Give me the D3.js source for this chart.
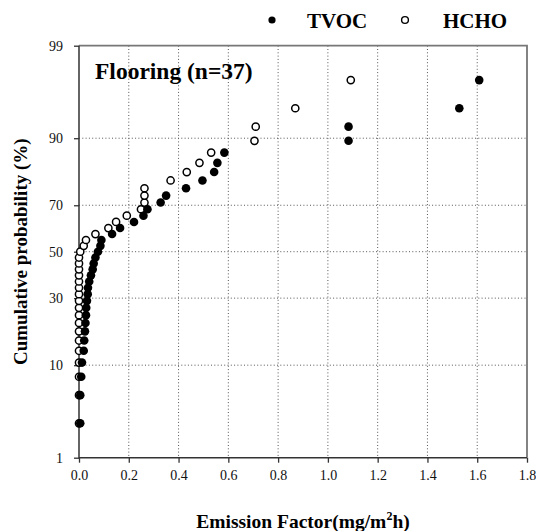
<!DOCTYPE html>
<html>
<head>
<meta charset="utf-8">
<script src="https://cdn.jsdelivr.net/npm/d3@7"></script>
<style>
  body { margin: 0; background: #fff; }
  svg, svg text { font-family: "Liberation Serif", "Times New Roman", serif; }
  svg { display: block; }
</style>
</head>
<body>
<div id="chart"></div>
<script>
// Emission factors (mg/m2h), sorted ascending, n = 37 each
const tvoc = [
  0.005, 0.005, 0.009, 0.012, 0.019, 0.021, 0.024, 0.026, 0.028, 0.029,
  0.032, 0.035, 0.036, 0.041, 0.048, 0.055, 0.059, 0.066, 0.076, 0.086,
  0.090, 0.133, 0.165, 0.221, 0.259, 0.275, 0.328, 0.350, 0.430, 0.496,
  0.543, 0.556, 0.584, 1.083, 1.083, 1.528, 1.608
];
const hcho = [
  0.000, 0.000, 0.000, 0.000, 0.000, 0.000, 0.000, 0.000, 0.000, 0.000,
  0.000, 0.000, 0.000, 0.000, 0.000, 0.000, 0.000, 0.000, 0.005, 0.019,
  0.028, 0.066, 0.118, 0.149, 0.192, 0.249, 0.263, 0.263, 0.263, 0.368,
  0.433, 0.484, 0.531, 0.705, 0.710, 0.869, 1.092
];
const seriesNames = ["TVOC", "HCHO"];
const xTicks = [0, 0.2, 0.4, 0.6, 0.8, 1.0, 1.2, 1.4, 1.6, 1.8];
const yTicks = [1, 10, 30, 50, 70, 90, 99];
const xGrid = [0.2, 0.4, 0.6, 0.8, 1.0, 1.2, 1.4, 1.6];
const yGrid = [10, 30, 50, 70, 90];
const panelTitle = "Flooring (n=37)";

(function() {
  const width = 536;
  const height = 531;
  const margin = { top: 45.7, right: 9, bottom: 73.3, left: 79 };
  const serif = '"Liberation Serif", "Times New Roman", serif';

  // inverse standard normal (Acklam)
  function probit(p) {
    const a = [-39.69683028665376, 220.9460984245205, -275.9285104469687, 138.357751867269, -30.66479806614716, 2.506628277459239];
    const b = [-54.47609879822406, 161.5858368580409, -155.6989798598866, 66.80131188771972, -13.28068155288572];
    const c = [-0.007784894002430293, -0.3223964580411365, -2.400758277161838, -2.549732539343734, 4.374664141464968, 2.938163982698783];
    const d = [0.007784695709041462, 0.3224671290700398, 2.445134137142996, 3.754408661907416];
    const pl = 0.02425;
    let q, r;
    if (p < pl) {
      q = Math.sqrt(-2 * Math.log(p));
      return (((((c[0] * q + c[1]) * q + c[2]) * q + c[3]) * q + c[4]) * q + c[5]) /
        ((((d[0] * q + d[1]) * q + d[2]) * q + d[3]) * q + 1);
    }
    if (p > 1 - pl) {
      q = Math.sqrt(-2 * Math.log(1 - p));
      return -(((((c[0] * q + c[1]) * q + c[2]) * q + c[3]) * q + c[4]) * q + c[5]) /
        ((((d[0] * q + d[1]) * q + d[2]) * q + d[3]) * q + 1);
    }
    q = p - 0.5;
    r = q * q;
    return (((((a[0] * r + a[1]) * r + a[2]) * r + a[3]) * r + a[4]) * r + a[5]) * q /
      (((((b[0] * r + b[1]) * r + b[2]) * r + b[3]) * r + b[4]) * r + 1);
  }

  const x = d3.scaleLinear().domain([0, 1.8]).range([margin.left, width - margin.right]);
  const z = d3.scaleLinear()
    .domain([probit(0.01), probit(0.99)])
    .range([height - margin.bottom, margin.top]);
  const y = pct => z(probit(pct / 100));

  // Weibull plotting position i/(n+1)
  const toPoints = values => values.map((v, i) => ({ v, p: (i + 1) / (values.length + 1) * 100 }));

  const svg = d3.select("#chart").append("svg")
    .attr("width", width)
    .attr("height", height);

  // grid
  svg.append("g")
    .selectAll("line")
    .data(xGrid)
    .join("line")
    .attr("x1", d => x(d)).attr("x2", d => x(d))
    .attr("y1", margin.top).attr("y2", height - margin.bottom)
    .attr("stroke", "#555").attr("stroke-width", 1)
    .attr("stroke-dasharray", "1,2.3");
  svg.append("g")
    .selectAll("line")
    .data(yGrid)
    .join("line")
    .attr("x1", margin.left).attr("x2", width - margin.right)
    .attr("y1", d => y(d)).attr("y2", d => y(d))
    .attr("stroke", "#555").attr("stroke-width", 1)
    .attr("stroke-dasharray", "1,2.3");

  // axes
  svg.append("g")
    .attr("transform", `translate(0,${height - margin.bottom})`)
    .call(d3.axisBottom(x).tickValues(xTicks).tickFormat(d3.format(".1f"))
      .tickSizeInner(5).tickSizeOuter(0).tickPadding(7))
    .attr("font-family", null)
    .call(g => g.select(".domain").remove())
    .call(g => g.selectAll("line").attr("stroke", "#333").attr("stroke-width", 1.3))
    .call(g => g.selectAll("text").attr("font-size", 14).attr("fill", "#111")
      .style("font-family", serif));

  svg.append("g")
    .attr("transform", `translate(${margin.left},0)`)
    .call(d3.axisLeft(z).tickValues(yTicks.map(d => probit(d / 100)))
      .tickFormat((d, i) => yTicks[i])
      .tickSizeInner(5).tickSizeOuter(0).tickPadding(11))
    .attr("font-family", null)
    .call(g => g.select(".domain").remove())
    .call(g => g.selectAll("line").attr("stroke", "#333").attr("stroke-width", 1.3))
    .call(g => g.selectAll("text").attr("font-size", 14).attr("fill", "#111")
      .style("font-family", serif));

  // frame
  const x0 = margin.left, x1 = width - margin.right;
  const y0 = margin.top, y1 = height - margin.bottom;
  svg.append("path")
    .attr("d", `M${x0},${y0}H${x1}V${y1}`)
    .attr("fill", "none").attr("stroke", "#777").attr("stroke-width", 1.8);
  svg.append("path")
    .attr("d", `M${x0},${y0}V${y1}H${x1}`)
    .attr("fill", "none").attr("stroke", "#333").attr("stroke-width", 1.5);

  // points
  svg.append("g")
    .selectAll("circle")
    .data(toPoints(hcho))
    .join("circle")
    .attr("cx", d => x(d.v)).attr("cy", d => y(d.p))
    .attr("r", 3.6)
    .attr("fill", "#fff").attr("stroke", "#000").attr("stroke-width", 1.5);
  svg.append("g")
    .selectAll("circle")
    .data(toPoints(tvoc))
    .join("circle")
    .attr("cx", d => x(d.v)).attr("cy", d => y(d.p))
    .attr("r", 4.3)
    .attr("fill", "#000");

  // panel title
  svg.append("text")
    .attr("x", 95).attr("y", 79)
    .attr("font-size", 23.5).attr("font-weight", "bold")
    .text(panelTitle);

  // legend
  const legend = svg.append("g");
  legend.append("circle").attr("cx", 272).attr("cy", 20).attr("r", 3.6).attr("fill", "#000");
  legend.append("text").attr("x", 307).attr("y", 28)
    .attr("font-size", 21).attr("font-weight", "bold").text(seriesNames[0]);
  legend.append("circle").attr("cx", 405).attr("cy", 20).attr("r", 3.4)
    .attr("fill", "#fff").attr("stroke", "#000").attr("stroke-width", 1.4);
  legend.append("text").attr("x", 443).attr("y", 28)
    .attr("font-size", 21).attr("font-weight", "bold").text(seriesNames[1]);

  // axis titles
  const xt = svg.append("text")
    .attr("x", (x0 + x1) / 2).attr("y", 528)
    .attr("text-anchor", "middle")
    .attr("font-size", 19.5).attr("font-weight", "bold");
  xt.append("tspan").text("Emission Factor(mg/m");
  xt.append("tspan").attr("font-size", 12).attr("dy", -8).text("2");
  xt.append("tspan").attr("dy", 8).text("h)");

  svg.append("text")
    .attr("transform", `translate(27,${(y0 + y1) / 2}) rotate(-90)`)
    .attr("text-anchor", "middle")
    .attr("font-size", 19).attr("font-weight", "bold")
    .text("Cumulative probability (%)");
})();
</script>
</body>
</html>
